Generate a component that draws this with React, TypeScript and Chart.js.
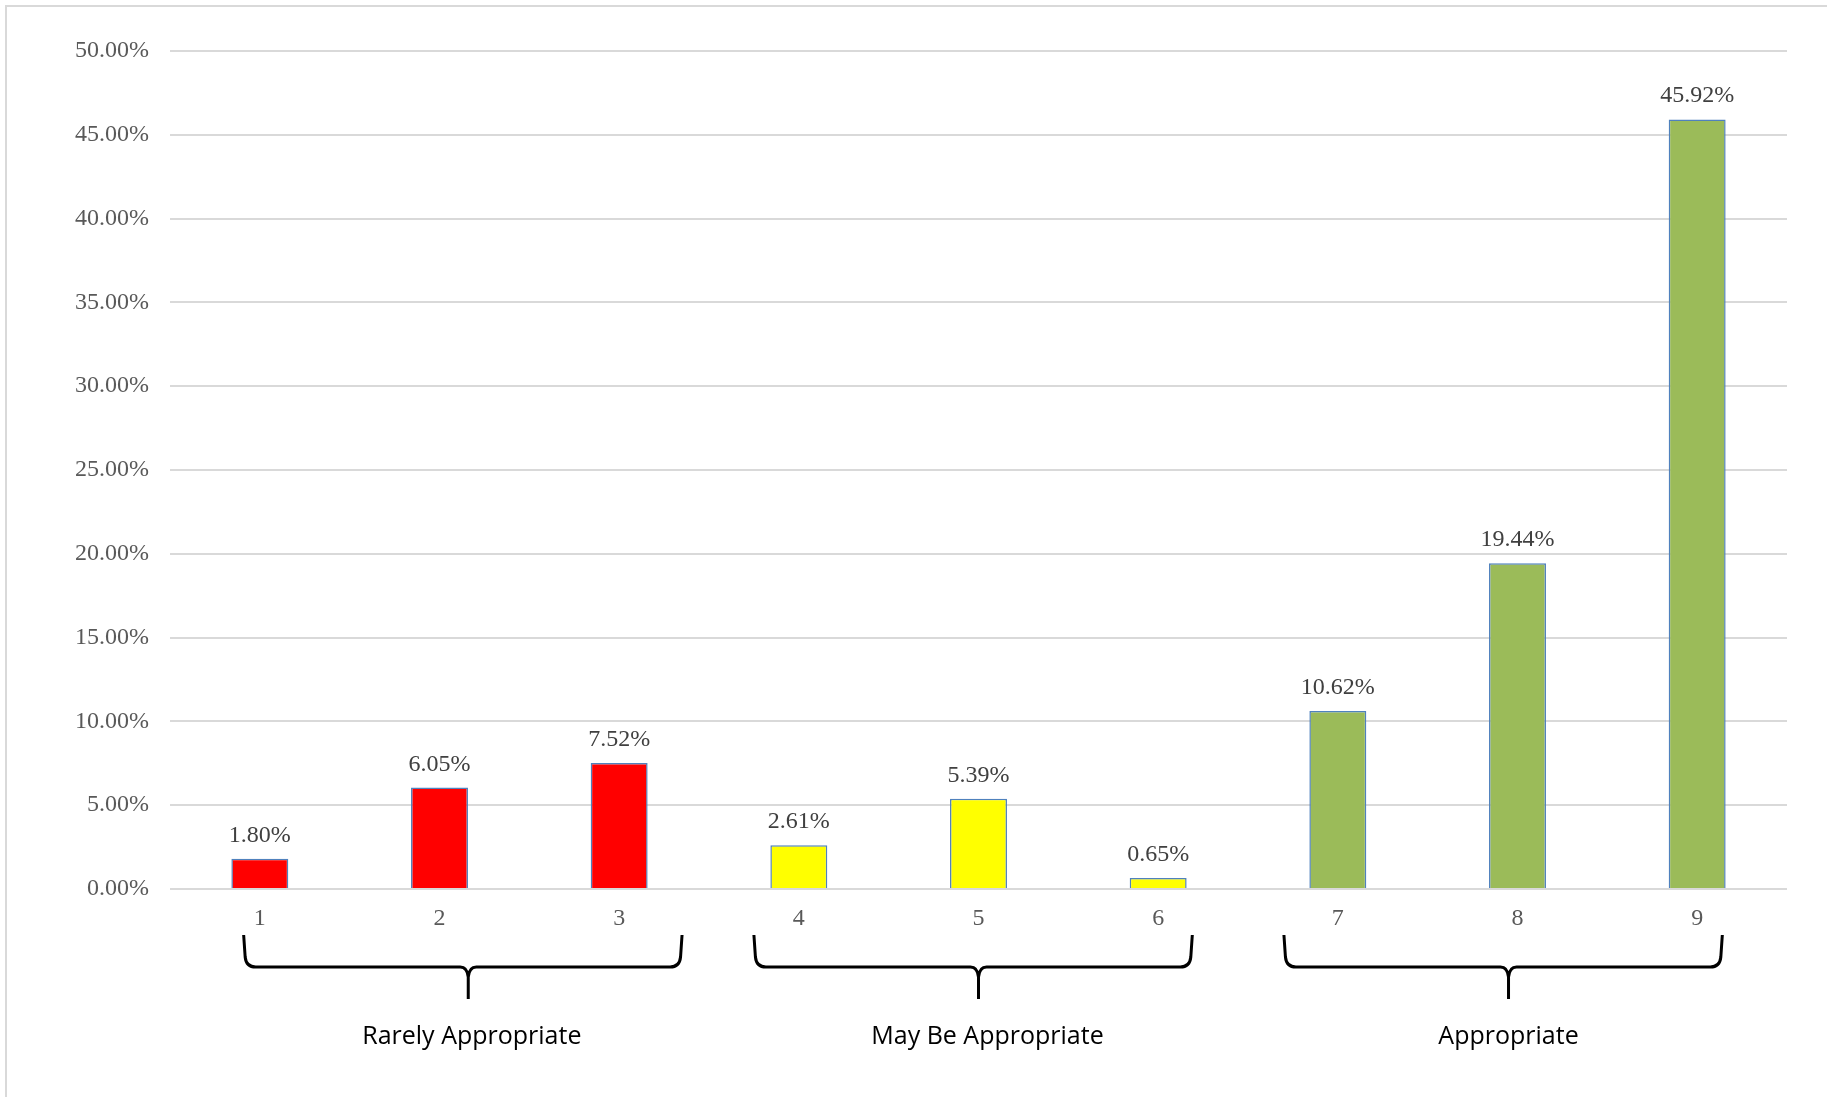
import React, { useEffect, useRef } from 'react';
import { Chart, registerables } from 'chart.js';

Chart.register(...registerables);

// ---- data ----
const categories = ['1', '2', '3', '4', '5', '6', '7', '8', '9'];
const percentages = [1.80, 6.05, 7.52, 2.61, 5.39, 0.65, 10.62, 19.44, 45.92];
const barColors = ['#FF0000', '#FF0000', '#FF0000', '#FFFF00', '#FFFF00', '#FFFF00', '#9BBB59', '#9BBB59', '#9BBB59'];
const yAxisMax = 50;
const yAxisStep = 5;

// group brackets, expressed in category-index units
const groupNames = ['Rarely Appropriate', 'May Be Appropriate', 'Appropriate'];
const groupFrom = [-0.09, 2.75, 5.70];
const groupTo = [2.35, 5.19, 8.14];
const groupTip = [1.16, 4.0, 6.95];
const groupLabelAt = [1.18, 4.05, 6.95];

const W = 1827;
const H = 1097;

const dataLabelPlugin = {
  id: 'dataLabels',
  afterDatasetsDraw(chart: any) {
    const ctx = chart.ctx;
    const meta = chart.getDatasetMeta(0);
    ctx.save();
    ctx.font = '24px "Liberation Serif"';
    ctx.fillStyle = '#404040';
    ctx.textAlign = 'center';
    ctx.textBaseline = 'alphabetic';
    meta.data.forEach((el: any, i: number) => {
      ctx.fillText(percentages[i].toFixed(2) + '%', el.x, el.y - 17);
    });
    ctx.restore();
  },
};

const decorPlugin = {
  id: 'decor',
  afterDraw(chart: any) {
    const ctx = chart.ctx;
    const xs = chart.scales.x;
    ctx.save();
    // frame (left + top edges)
    ctx.strokeStyle = '#D9D9D9';
    ctx.lineWidth = 2;
    ctx.beginPath();
    ctx.moveTo(6, H);
    ctx.lineTo(6, 6);
    ctx.lineTo(W, 6);
    ctx.stroke();

    // brackets
    const yTop = 935;
    const yBar = 967;
    const yTip = 999;
    ctx.strokeStyle = '#000000';
    ctx.lineWidth = 3;
    ctx.lineJoin = 'round';
    ctx.lineCap = 'butt';
    for (let g = 0; g < groupNames.length; g++) {
      const x0 = xs.getPixelForValue(groupFrom[g]);
      const x1 = xs.getPixelForValue(groupTo[g]);
      const cx = xs.getPixelForValue(groupTip[g]);
      ctx.beginPath();
      ctx.moveTo(x0, yTop);
      ctx.lineTo(x0 + 1.5, yBar - 10);
      ctx.quadraticCurveTo(x0 + 2.5, yBar, x0 + 12, yBar);
      ctx.lineTo(cx - 8, yBar);
      ctx.quadraticCurveTo(cx - 1, yBar, cx, yBar + 10);
      ctx.lineTo(cx, yTip);
      ctx.moveTo(cx, yBar + 10);
      ctx.quadraticCurveTo(cx + 1, yBar, cx + 8, yBar);
      ctx.lineTo(x1 - 12, yBar);
      ctx.quadraticCurveTo(x1 - 2.5, yBar, x1 - 1.5, yBar - 10);
      ctx.lineTo(x1, yTop);
      ctx.stroke();
    }
    // group labels
    ctx.fillStyle = '#000000';
    ctx.font = '25px "Open Sans"';
    ctx.textAlign = 'center';
    ctx.textBaseline = 'middle';
    for (let g = 0; g < groupNames.length; g++) {
      ctx.fillText(groupNames[g], xs.getPixelForValue(groupLabelAt[g]), 1037);
    }
    ctx.restore();
  },
};

export default function App() {
  const ref = useRef<HTMLCanvasElement>(null);
  useEffect(() => {
    if (!ref.current) return;
    const chart = new Chart(ref.current, {
      type: 'bar',
      data: {
        labels: categories,
        datasets: [
          {
            data: percentages,
            backgroundColor: barColors,
            borderColor: '#4F81BD',
            borderWidth: 1.5,
            categoryPercentage: 1,
            barPercentage: 0.317,
          },
        ],
      },
      options: {
        responsive: false,
        animation: false,
        events: [],
        layout: { padding: { top: 51, right: 40, left: 0, bottom: 0 } },
        plugins: {
          legend: { display: false },
          tooltip: { enabled: false },
          title: { display: false },
        },
        scales: {
          x: {
            grid: { display: false, drawTicks: false },
            border: { display: false },
            ticks: {
              color: '#595959',
              font: { family: '"Liberation Serif"', size: 24 },
              padding: 15,
              maxRotation: 0,
            },
            afterFit(scale: any) {
              scale.height = H - 889;
            },
          },
          y: {
            min: 0,
            max: yAxisMax,
            grid: { color: '#D9D9D9', lineWidth: 2, drawTicks: false },
            border: { display: false },
            ticks: {
              stepSize: yAxisStep,
              color: '#595959',
              font: { family: '"Liberation Serif"', size: 24 },
              padding: 21,
              callback: (v: any) => Number(v).toFixed(2) + '%',
            },
            afterFit(scale: any) {
              scale.width = 170;
            },
          },
        },
      },
      plugins: [dataLabelPlugin, decorPlugin],
    });
    return () => chart.destroy();
  }, []);
  return (
    <div style={{ position: 'fixed', left: 0, top: 0, width: W, height: H, background: '#FFFFFF' }}>
      <canvas ref={ref} width={W} height={H} style={{ width: W, height: H, display: 'block' }} />
    </div>
  );
}
